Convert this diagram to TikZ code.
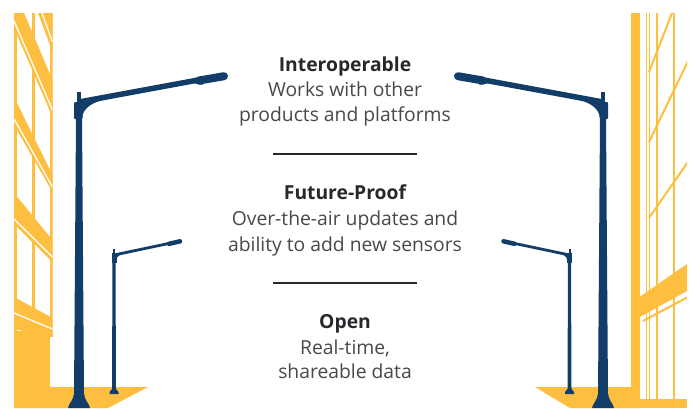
\documentclass[tikz,border=0pt]{standalone}
\usepackage{fontspec}
\setmainfont{Open Sans}
\definecolor{ylw}{RGB}{254,190,64}
\definecolor{navy}{RGB}{17,61,104}
\definecolor{ttl}{RGB}{40,40,44}
\definecolor{bdy}{RGB}{72,72,76}
\newcommand{\drawbiglamp}{%
  \fill[navy] (-3,118) -- (3,118) -- (5,395) -- (-5,395) -- cycle;
  \fill[navy] (-5,394) -- (5,394) .. controls (6,401) and (10,403) .. (11,408) -- (-11,408) .. controls (-10,403) and (-6,401) .. (-5,394) -- cycle;
  \fill[navy] (-2,92) rectangle (2,104);
  \fill[navy,rounded corners=1] (-5,102) rectangle (3.5,119);
  \draw[navy,line width=5.5] (0,102) -- (122,79.5);
  \draw[navy,line width=8,line cap=round] (120,80.5) -- (145,76.2);
  \fill[navy] (112,83) .. controls (116,82) and (118,85.5) .. (124,84.5) -- (124,80) -- cycle;
  \fill[navy] (3,100) -- (30,99) .. controls (14,101) and (4,108) .. (3,118) -- cycle;
}
\newcommand{\drawsmalllamp}{%
  \fill[navy] (-1.5,262) -- (1.5,262) -- (2,390) -- (-2,390) -- cycle;
  \fill[navy] (-2,389) -- (2,389) -- (4.5,392) -- (4.5,394) -- (-4.5,394) -- (-4.5,392) -- cycle;
  \fill[navy] (-1,249) rectangle (1,254);
  \fill[navy] (-2.5,253) rectangle (2.5,263);
  \draw[navy,line width=2.8] (0,255) -- (56,243.2);
  \draw[navy,line width=4.5,line cap=round] (55,243.8) -- (66,241.3);
  \fill[navy] (2,255) -- (12,252.8) .. controls (6,254.5) and (2.5,256) .. (2.5,260) -- cycle;
}
\begin{document}
\begin{tikzpicture}[x=1pt,y=-1pt,
  ttltext/.style={text=ttl,anchor=base,font=\bfseries\fontsize{19.3}{19.3}\selectfont},
  bodytext/.style={text=bdy,anchor=base,font=\fontsize{19.3}{19.3}\selectfont},
  sepline/.style={draw=ttl,line width=2.8},
  winline/.style={draw=white,line width=1.3},
  ylwline/.style={draw=ylw,line width=2}]
\useasboundingbox (0,0) rectangle (693,408);
\fill[white] (0,0) rectangle (693,408);

% ---------- left building ----------
\begin{scope}
  \clip (14,13) rectangle (52.5,408);
  \fill[ylw] (14,13) rectangle (16.5,331);
  \fill[ylw] (32,13) rectangle (34.5,331);
  \fill[ylw] (50,13) rectangle (52.5,337);
  % band 0
  \fill[ylw] (38,13) -- (52.5,13) -- (52.5,52) -- cycle;
  \draw[winline] (42,13) -- (52.5,42);
  % band 1
  \fill[ylw] (14,13) -- (24,13) -- (52.5,80) -- (52.5,117) -- (14,28) -- cycle;
  \draw[winline] (14,21) -- (52.5,110);
  % band 2
  \fill[ylw] (14,97) -- (52.5,175) -- (52.5,192) -- (14,125) -- cycle;
  \draw[winline] (14,119) -- (52.5,187);
  % band 3
  \fill[ylw] (14,193) -- (52.5,240) -- (52.5,262) -- (14,224) -- cycle;
  \draw[winline] (14,219) -- (52.5,257);
  % band 4
  \fill[ylw] (14,297) -- (52.5,318) -- (52.5,337) -- (14,329) -- cycle;
  \draw[winline] (14,313) -- (52.5,329);
  \fill[ylw] (14,331) rectangle (50,408);
\end{scope}
% left ground
\fill[ylw] (50,387) -- (148,387) -- (108,408) -- (14,408) -- (14,387) -- cycle;

% ---------- right building ----------
\begin{scope}
  \clip (630.5,13) rectangle (687,408);
  \fill[ylw] (630.5,13) rectangle (640,387);
  \fill[ylw] (645.5,13) rectangle (647,399);
  \fill[ylw] (648.5,13) rectangle (650,399);
  \fill[ylw] (655.5,13) rectangle (657.5,399);
  \fill[ylw] (673,13) rectangle (675,399);
  \draw[ylwline] (649,72) -- (672,13);
  \draw[ylwline] (649,142) -- (690,57);
  \draw[ylwline] (649,218) -- (690,159);
  \fill[ylw] (638,298) -- (687,264) -- (687,291) -- (638,318) -- cycle;
  \draw[ylwline] (643,321) -- (687,297.5);
  \fill[ylw] (640,399) rectangle (687,408);
\end{scope}
% right ground
\fill[ylw] (535,387) -- (640,387) -- (640,408) -- (570,408) -- cycle;

% ---------- lamps ----------
\begin{scope}[shift={(79,0)}]\drawbiglamp\end{scope}
\begin{scope}[shift={(603,0)},xscale=-1]\drawbiglamp\end{scope}
\begin{scope}[shift={(114,0)}]\drawsmalllamp\end{scope}
\begin{scope}[shift={(569.5,0)},xscale=-1]\drawsmalllamp\end{scope}

% ---------- text ----------
\node[ttltext] (t1) at (345,71) {Interoperable};
\node[bodytext] (b1a) at (345,96) {Works with other};
\node[bodytext] (b1b) at (345,121) {products and platforms};
\coordinate (s1l) at (273,154);
\coordinate (s1r) at (417,154);
\draw[sepline] (s1l) -- (s1r);
\node[ttltext] (t2) at (345,199) {Future-Proof};
\node[bodytext] (b2a) at (345,225) {Over-the-air updates and};
\node[bodytext] (b2b) at (345,251) {ability to add new sensors};
\coordinate (s2l) at (273,283);
\coordinate (s2r) at (417,283);
\draw[sepline] (s2l) -- (s2r);
\node[ttltext] (t3) at (345,328) {Open};
\node[bodytext] (b3a) at (345,354) {Real-time,};
\node[bodytext] (b3b) at (345,378) {shareable data};
\end{tikzpicture}
\end{document}
